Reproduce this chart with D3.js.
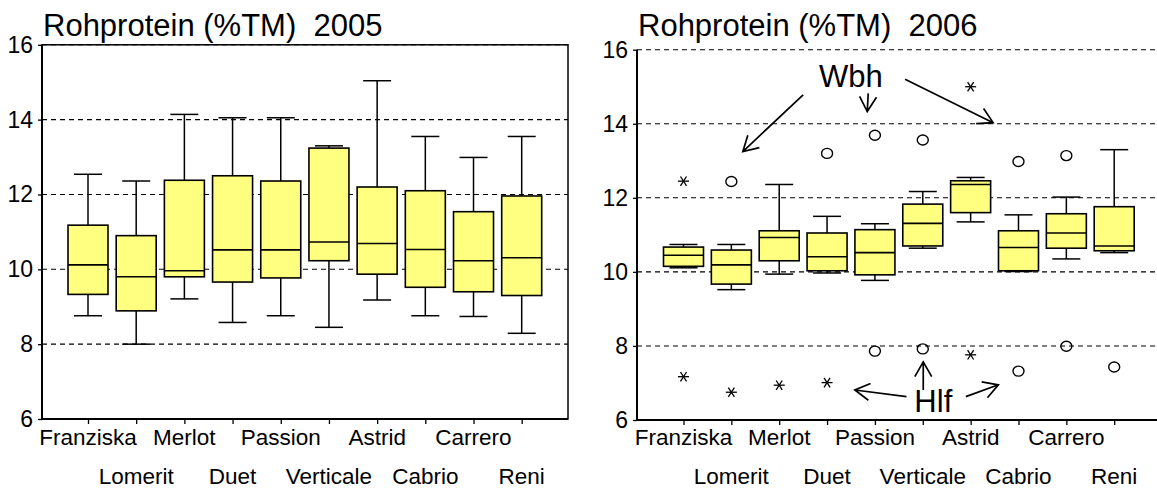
<!DOCTYPE html>
<html><head><meta charset="utf-8">
<script src="https://cdn.jsdelivr.net/npm/d3@7/dist/d3.min.js"></script>
<style>
html,body{margin:0;padding:0;background:#fff;}
svg{display:block;font-family:"Liberation Sans",Arial,sans-serif;}
</style></head>
<body>
<svg id="c" width="1157" height="488"></svg>
<script>
// ---------- data ----------
const categories = ["Franziska","Lomerit","Merlot","Duet","Passion","Verticale","Astrid","Cabrio","Carrero","Reni"];
const yTicks = [6, 8, 10, 12, 14, 16];
const gridValues = [6, 8, 10, 12, 14, 16];

// 2005
const title2005 = "Rohprotein (%TM)  2005";
const whiskerLow2005  = [8.76, 8.00, 9.21, 8.58, 8.76, 8.45, 9.18, 8.76, 8.74, 8.29];
const q1_2005         = [9.33, 8.89, 9.80, 9.66, 9.77, 10.23, 9.87, 9.52, 9.40, 9.30];
const median2005      = [10.12, 9.80, 9.96, 10.52, 10.52, 10.73, 10.69, 10.53, 10.23, 10.31];
const q3_2005         = [11.18, 10.90, 12.38, 12.50, 12.36, 13.24, 12.20, 12.10, 11.54, 11.96];
const whiskerHigh2005 = [12.54, 12.36, 14.14, 14.05, 14.05, 13.30, 15.04, 13.55, 12.99, 13.55];
const outliers2005 = [];

// 2006
const title2006 = "Rohprotein (%TM)  2006";
const whiskerLow2006  = [10.11, 9.52, 9.94, 9.97, 9.77, 10.64, 11.35, 10.01, 10.35, 10.52];
const q1_2006         = [10.15, 9.67, 10.30, 10.03, 9.92, 10.70, 11.60, 10.03, 10.64, 10.57];
const median2006      = [10.45, 10.19, 10.93, 10.41, 10.52, 11.31, 12.36, 10.66, 11.05, 10.70];
const q3_2006         = [10.67, 10.59, 11.11, 11.05, 11.14, 11.83, 12.46, 11.11, 11.57, 11.76];
const whiskerHigh2006 = [10.74, 10.74, 12.36, 11.50, 11.30, 12.17, 12.55, 11.54, 12.02, 13.30];
// [category, value, kind]
const outliers2006 = [
  ["Franziska", 12.45, "star"], ["Lomerit", 12.44, "circle"], ["Duet", 13.20, "circle"],
  ["Passion", 13.69, "circle"], ["Verticale", 13.56, "circle"], ["Astrid", 15.00, "star"],
  ["Cabrio", 12.98, "circle"], ["Carrero", 13.14, "circle"],
  ["Franziska", 7.17, "star"], ["Lomerit", 6.75, "star"], ["Merlot", 6.94, "star"],
  ["Duet", 7.01, "star"], ["Passion", 7.86, "circle"], ["Verticale", 7.92, "circle"],
  ["Astrid", 7.76, "star"], ["Cabrio", 7.32, "circle"], ["Carrero", 7.99, "circle"],
  ["Reni", 7.43, "circle"]
];
// annotations (category index position, value)
const labels2006 = [["Wbh", 3.50, 15.00], ["Hlf", 5.22, 6.22]];
const arrows2006 = [
  [[2.50, 14.78], [1.24, 13.25]],
  [[3.86, 14.82], [3.84, 14.33]],
  [[4.63, 15.20], [6.47, 14.03]],
  [[4.66, 6.63], [3.58, 6.81]],
  [[5.01, 6.81], [5.01, 7.57]],
  [[5.90, 6.63], [6.58, 6.95]]
];

// ---------- drawing ----------
const svg = d3.select("#c");
const panels = [
  {title: title2005, lo: whiskerLow2005, q1: q1_2005, med: median2005, q3: q3_2005, hi: whiskerHigh2005,
   out: outliers2005, labels: [], arrows: [],
   x0: 42, x1: 568, xa: 88, xb: 521.7, yTop: 44.8, yBot: 419, closed: true},
  {title: title2006, lo: whiskerLow2006, q1: q1_2006, med: median2006, q3: q3_2006, hi: whiskerHigh2006,
   out: outliers2006, labels: labels2006, arrows: arrows2006,
   x0: 637, x1: 1162, xa: 683.5, xb: 1114.2, yTop: 49.7, yBot: 420, closed: false}
];

const boxW = 40, capW = 28;

panels.forEach(p => {
  const g = svg.append("g");
  const x = d3.scalePoint().domain(categories).range([p.xa, p.xb]);
  const xi = d3.scaleLinear().domain([0, categories.length - 1]).range([p.xa, p.xb]);
  const y = d3.scaleLinear().domain([6, 16]).range([p.yBot, p.yTop]);

  // title
  g.append("text").attr("x", p.x0 + 1).attr("y", 36)
    .attr("font-size", 31).attr("fill", "#000").style("white-space", "pre")
    .text(p.title);

  // grid
  g.selectAll("line.grid").data(gridValues).join("line")
    .attr("x1", p.x0).attr("x2", p.x1)
    .attr("y1", d => y(d)).attr("y2", d => y(d))
    .attr("stroke", "#000").attr("stroke-width", 1.1).attr("stroke-dasharray", "5,4");

  // frame
  if (p.closed) {
    g.append("rect").attr("x", p.x0).attr("y", y(16)).attr("width", p.x1 - p.x0).attr("height", y(6) - y(16))
      .attr("fill", "none").attr("stroke", "#000").attr("stroke-width", 1.5);
  }

  // y axis
  const ya = d3.axisLeft(y).tickValues(yTicks).tickSize(4).tickPadding(5).tickFormat(d3.format("d"));
  const yg = g.append("g").attr("transform", `translate(${p.x0},0)`).call(ya);
  yg.select(".domain").attr("stroke", "#000").attr("stroke-width", 2).attr("d", `M0,${y(16)}V${y(6)}`);
  yg.selectAll(".tick line").attr("stroke", "#000").attr("stroke-width", 1.3);
  yg.selectAll(".tick text").attr("font-size", 23).attr("fill", "#000")
    .attr("font-family", "'Liberation Sans',Arial,sans-serif");

  // x axis
  const xa = d3.axisBottom(x).tickSize(5).tickFormat("");
  const xg = g.append("g").attr("transform", `translate(0,${y(6)})`).call(xa);
  xg.select(".domain").attr("stroke", "#000").attr("stroke-width", 2).attr("d", `M${p.x0},0H${p.x1}`);
  xg.selectAll(".tick line").attr("stroke", "#000").attr("stroke-width", 1.3);

  g.selectAll("text.xl").data(categories).join("text")
    .attr("x", d => x(d))
    .attr("y", (d, i) => i % 2 === 0 ? 445 : 483.5)
    .attr("text-anchor", "middle").attr("font-size", 22.5).attr("fill", "#000")
    .text(d => d);

  // whiskers
  const bx = g.selectAll("g.bx").data(categories).join("g");
  bx.append("line").attr("x1", d => x(d)).attr("x2", d => x(d))
    .attr("y1", (d, i) => y(p.hi[i])).attr("y2", (d, i) => y(p.lo[i]))
    .attr("stroke", "#000").attr("stroke-width", 1.5);
  bx.append("line").attr("x1", d => x(d) - capW / 2).attr("x2", d => x(d) + capW / 2)
    .attr("y1", (d, i) => y(p.hi[i])).attr("y2", (d, i) => y(p.hi[i]))
    .attr("stroke", "#000").attr("stroke-width", 1.5);
  bx.append("line").attr("x1", d => x(d) - capW / 2).attr("x2", d => x(d) + capW / 2)
    .attr("y1", (d, i) => y(p.lo[i])).attr("y2", (d, i) => y(p.lo[i]))
    .attr("stroke", "#000").attr("stroke-width", 1.5);
  bx.append("rect").attr("x", d => x(d) - boxW / 2).attr("width", boxW)
    .attr("y", (d, i) => y(p.q3[i])).attr("height", (d, i) => y(p.q1[i]) - y(p.q3[i]))
    .attr("fill", "#ffff80").attr("stroke", "#000").attr("stroke-width", 1.6);
  bx.append("line").attr("x1", d => x(d) - boxW / 2).attr("x2", d => x(d) + boxW / 2)
    .attr("y1", (d, i) => y(p.med[i])).attr("y2", (d, i) => y(p.med[i]))
    .attr("stroke", "#000").attr("stroke-width", 1.6);

  // outliers
  p.out.forEach(([c, v, k]) => {
    const cx = x(c), cy = y(v);
    if (k === "circle") {
      g.append("ellipse").attr("cx", cx).attr("cy", cy).attr("rx", 5.5).attr("ry", 5)
        .attr("fill", "none").attr("stroke", "#000").attr("stroke-width", 1.4);
    } else {
      const s = 5.5;
      [[-s, 0, s, 0], [-s * 0.55, -s * 0.85, s * 0.55, s * 0.85], [-s * 0.55, s * 0.85, s * 0.55, -s * 0.85]]
        .forEach(([a, b, c2, d2]) => g.append("line")
          .attr("x1", cx + a).attr("y1", cy + b).attr("x2", cx + c2).attr("y2", cy + d2)
          .attr("stroke", "#000").attr("stroke-width", 1.3));
    }
  });

  // annotation labels
  p.labels.forEach(([t, i, v]) => {
    g.append("text").attr("x", xi(i)).attr("y", y(v)).attr("text-anchor", "middle")
      .attr("font-size", 31).attr("fill", "#000").text(t);
  });
  // arrows
  p.arrows.forEach(([a, b]) => {
    const x1 = xi(a[0]), y1 = y(a[1]), x2 = xi(b[0]), y2 = y(b[1]);
    const ang = Math.atan2(y1 - y2, x1 - x2), L = 17, h = 0.52;
    g.append("path")
      .attr("d", `M${x1},${y1}L${x2},${y2}M${x2 + L * Math.cos(ang - h)},${y2 + L * Math.sin(ang - h)}L${x2},${y2}L${x2 + L * Math.cos(ang + h)},${y2 + L * Math.sin(ang + h)}`)
      .attr("fill", "none").attr("stroke", "#000").attr("stroke-width", 1.7);
  });
});
</script>
</body></html>
